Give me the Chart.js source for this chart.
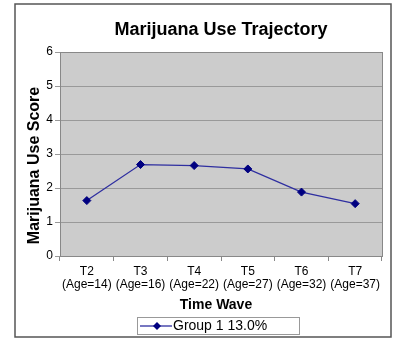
<!DOCTYPE html>
<html>
<head>
<meta charset="utf-8">
<script src="https://cdn.jsdelivr.net/npm/chart.js@4"></script>
<style>
  html, body { margin: 0; padding: 0; background: #ffffff; }
  canvas { display: block; }
</style>
</head>
<body>
<canvas id="chart" width="393" height="347"></canvas>
<script>
// Time waves and the participants' age at each wave
const waves = ['T2', 'T3', 'T4', 'T5', 'T6', 'T7'];
const ages = [14, 16, 22, 27, 32, 37];
// Mean marijuana use score for the group at each wave
const scores = [1.63, 2.69, 2.66, 2.56, 1.88, 1.54];
const seriesName = 'Group 1 13.0%';
const chartTitle = 'Marijuana Use Trajectory';
const xTitle = 'Time Wave';
const yTitle = 'Marijuana Use Score';
const yMin = 0, yMax = 6, yStep = 1;

const FONT = "'Liberation Sans', Arial, sans-serif";
const categoryLabels = waves.map((w, i) => [w, '(Age=' + ages[i] + ')']);

// Frame, plot background, titles and legend box
const decorations = {
  id: 'decorations',
  beforeDraw(chart) {
    const ctx = chart.ctx;
    const a = chart.chartArea;
    ctx.save();
    ctx.fillStyle = '#ffffff';
    ctx.fillRect(0, 0, chart.width, chart.height);
    ctx.strokeStyle = '#555555';
    ctx.lineWidth = 1.5;
    ctx.strokeRect(15, 4, 376, 333);
    ctx.fillStyle = '#cccccc';
    ctx.fillRect(a.left, a.top, a.right - a.left, a.bottom - a.top);
    ctx.restore();
  },
  afterDatasetsDraw(chart) {
    const ctx = chart.ctx;
    const a = chart.chartArea;
    ctx.save();
    // plot border
    ctx.strokeStyle = '#888888';
    ctx.lineWidth = 1;
    ctx.strokeRect(Math.round(a.left) + 0.5, Math.round(a.top) + 0.5,
                   Math.round(a.right - a.left), Math.round(a.bottom - a.top));
    // chart title
    ctx.fillStyle = '#000000';
    ctx.font = 'bold 18px ' + FONT;
    ctx.textAlign = 'center';
    ctx.textBaseline = 'alphabetic';
    ctx.fillText(chartTitle, (a.left + a.right) / 2, 35);
    // axis titles
    ctx.font = 'bold 14px ' + FONT;
    ctx.textBaseline = 'middle';
    ctx.fillText(xTitle, 216, 305);
    ctx.save();
    ctx.translate(35, 165.5);
    ctx.rotate(-Math.PI / 2);
    ctx.font = 'bold 16px ' + FONT;
    ctx.fillText(yTitle, 0, 0);
    ctx.restore();
    // legend
    const ds = chart.data.datasets[0];
    const bx = 137, by = 317, bw = 162, bh = 17;
    ctx.strokeStyle = '#999999';
    ctx.lineWidth = 1;
    ctx.strokeRect(bx + 0.5, by + 0.5, bw, bh);
    const cy = by + bh / 2 + 0.5;
    ctx.strokeStyle = ds.borderColor;
    ctx.lineWidth = ds.borderWidth;
    ctx.beginPath();
    ctx.moveTo(140, cy);
    ctx.lineTo(172, cy);
    ctx.stroke();
    ctx.fillStyle = ds.pointBackgroundColor;
    ctx.beginPath();
    ctx.moveTo(157, cy - 4);
    ctx.lineTo(161, cy);
    ctx.lineTo(157, cy + 4);
    ctx.lineTo(153, cy);
    ctx.closePath();
    ctx.fill();
    ctx.fillStyle = '#000000';
    ctx.font = '14px ' + FONT;
    ctx.textAlign = 'left';
    ctx.textBaseline = 'middle';
    ctx.fillText(ds.label, 173, cy);
    ctx.restore();
  }
};

new Chart(document.getElementById('chart'), {
  type: 'line',
  data: {
    labels: categoryLabels,
    datasets: [{
      label: seriesName,
      data: scores,
      borderColor: '#2e2ea0',
      borderWidth: 1.3,
      pointStyle: 'rectRot',
      pointRadius: 4,
      pointHoverRadius: 4,
      pointBackgroundColor: '#000080',
      pointBorderColor: '#000080',
      pointBorderWidth: 1,
      tension: 0,
      fill: false
    }]
  },
  options: {
    responsive: false,
    animation: false,
    devicePixelRatio: 1,
    layout: { padding: { top: 52, bottom: 31, left: 0, right: 11 } },
    plugins: {
      legend: { display: false },
      title: { display: false },
      tooltip: { enabled: false }
    },
    scales: {
      x: {
        type: 'category',
        offset: true,
        afterFit(scale) { scale.height = 60; },
        grid: {
          offset: true,
          drawOnChartArea: false,
          drawTicks: true,
          tickLength: 5,
          color: '#888888'
        },
        border: { display: true, color: '#888888' },
        ticks: {
          color: '#000000',
          font: { family: FONT, size: 12, lineHeight: 1.1 },
          padding: 4,
          maxRotation: 0,
          autoSkip: false
        }
      },
      y: {
        min: yMin,
        max: yMax,
        afterFit(scale) { scale.width = 60; },
        grid: {
          color: '#999999',
          drawTicks: true,
          tickLength: 5
        },
        border: { display: true, color: '#888888' },
        ticks: {
          stepSize: yStep,
          color: '#000000',
          font: { family: FONT, size: 12 },
          padding: 2
        }
      }
    }
  },
  plugins: [decorations]
});
</script>
</body>
</html>
